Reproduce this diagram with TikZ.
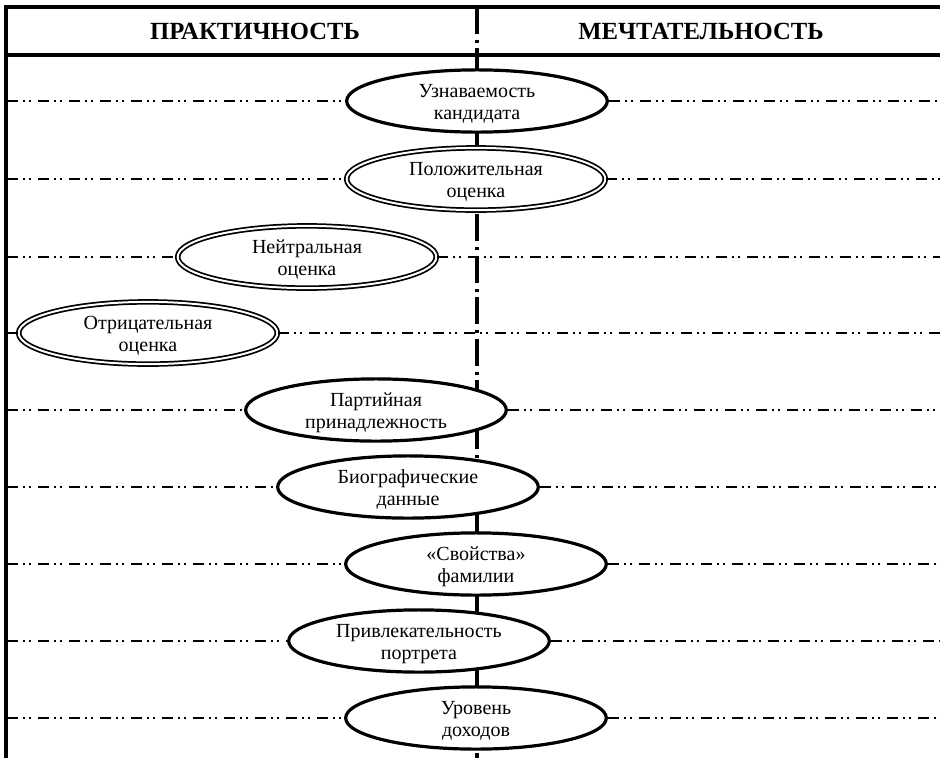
\documentclass[tikz,border=0pt]{standalone}
\usepackage{fontspec}
\setmainfont{Liberation Serif}
\usetikzlibrary{shapes.geometric}
% two centred lines, set slightly below the middle of the shape
\newcommand\twoline[2]{\raisebox{-2pt}[\height][\depth]{\begin{tabular}{@{}c@{}}#1\\#2\end{tabular}}}
\begin{document}
\begin{tikzpicture}[x=0.75pt,y=-0.75pt,
  frame/.style={line width=2.6pt},
  axisline/.style={line width=2.5pt, dash pattern=on 20.25pt off 4.5pt on 2.25pt off 4.1pt},
  guide/.style={line width=1.6pt, dash pattern=on 8.25pt off 3.75pt on 1.5pt off 3pt on 1.5pt off 5.25pt},
  factor/.style={ellipse, draw, fill=white, line width=2.4pt, inner sep=0pt,
    minimum width=195.5pt, minimum height=45.5pt,
    font=\fontsize{15}{16.5}\selectfont},
  rated/.style={factor, line width=1.3pt, double, double distance=1.5pt,
    minimum width=194pt, minimum height=44pt},
  head/.style={font=\fontsize{18.5}{20}\selectfont\bfseries}
]
\useasboundingbox (0,0) rectangle (940,758);

% central axis between the two columns
\coordinate (axTop) at (477,7);
\coordinate (axBot) at (477,758);
\draw[axisline] (axTop) -- (axBot);

% frame and header
\coordinate (tl) at (6,7);
\coordinate (tr) at (940,7);
\coordinate (hl) at (4,55);
\coordinate (hr) at (940,55);
\coordinate (bl) at (6,758);
\draw[frame] (4,7) -- (tr);
\draw[frame] (hl) -- (hr);
\draw[frame] (tl) -- (bl);
\node[head] (practical) at (255,31) {ПРАКТИЧНОСТЬ};
\node[head] (dreamy) at (701,31) {МЕЧТАТЕЛЬНОСТЬ};

% factors
\node[factor] (e1) at (477,101) {\twoline{Узнаваемость}{кандидата}};
\node[rated]  (e2) at (476,179) {\twoline{Положительная}{оценка}};
\node[rated]  (e3) at (307,257) {\twoline{Нейтральная}{оценка}};
\node[rated]  (e4) at (148,333) {\twoline{Отрицательная}{оценка}};
\node[factor] (e5) at (376,410) {\twoline{Партийная}{принадлежность}};
\node[factor] (e6) at (408,487) {\twoline{Биографические}{данные}};
\node[factor] (e7) at (476,564) {\twoline{«Свойства»}{фамилии}};
\node[factor] (e8) at (419,641) {\twoline{Привлекательность}{портрета}};
\node[factor] (e9) at (476,718) {\twoline{Уровень}{доходов}};

% guide lines from the frame to each factor and on to the right edge
\foreach \i/\y in {1/101,2/179,3/257,4/333,5/410,6/487,7/564,8/641,9/718} {
  \coordinate (L\i) at (7,\y);
  \coordinate (R\i) at (940,\y);
}
\foreach \i in {1,...,9} {
  \draw[guide] (L\i) -- (e\i.west);
  \draw[guide] (e\i.east) -- (R\i);
}
\end{tikzpicture}
\end{document}
